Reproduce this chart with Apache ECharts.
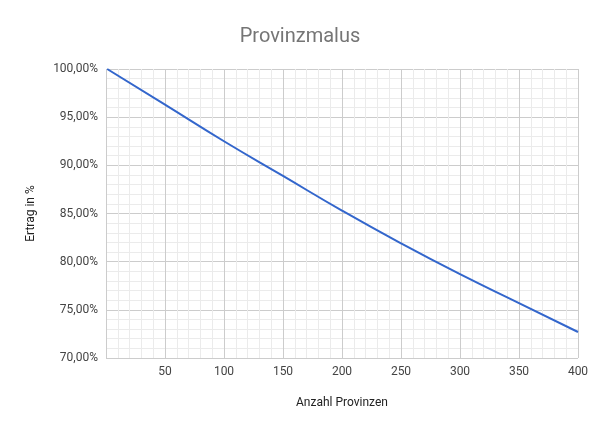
<!DOCTYPE html>
<html><head><meta charset="utf-8">
<script src="https://cdn.jsdelivr.net/npm/echarts@6/dist/echarts.min.js"></script>
<style>html,body{margin:0;padding:0;background:#fff}#c{width:600px;height:433px}</style>
</head><body><div id="c"></div>
<script>
const xValues = [1, 50, 100, 150, 200, 250, 300, 350, 400];
const yieldValues = [1.0, 0.963, 0.925, 0.889, 0.853, 0.819, 0.787, 0.757, 0.727];
const chart = echarts.init(document.getElementById('c'));
const fmt = v => (v*100).toFixed(2).replace('.', ',') + '%';
chart.setOption({
  title: {text: 'Provinzmalus', left: 'center', top: 22, textStyle: {fontFamily: 'Roboto', fontSize: 20, fontWeight: 'normal', color: '#757575'}},
  grid: {left: 106, right: 22, top: 69, bottom: 75},
  xAxis: {type: 'value', min: 0, max: 400, interval: 50,
    name: 'Anzahl Provinzen', nameLocation: 'middle', nameGap: 39,
    nameTextStyle: {fontFamily: 'Roboto', fontSize: 12, color: '#222'},
    axisLine: {show: false}, axisTick: {show: false},
    axisLabel: {fontFamily: 'Roboto', fontSize: 12, color: '#444', formatter: v => v === 0 ? '' : v},
    splitLine: {lineStyle: {color: '#cccccc'}},
    minorTick: {show: false, splitNumber: 5}, minorSplitLine: {show: true, lineStyle: {color: '#ebebeb'}}},
  yAxis: {type: 'value', min: 0.7, max: 1.0, interval: 0.05,
    name: 'Ertrag in %', nameLocation: 'middle', nameGap: 69,
    nameTextStyle: {fontFamily: 'Roboto', fontSize: 12, color: '#222'},
    axisLine: {show: false}, axisTick: {show: false},
    axisLabel: {fontFamily: 'Roboto', fontSize: 12, color: '#444', formatter: fmt},
    splitLine: {lineStyle: {color: '#cccccc'}},
    minorTick: {show: false, splitNumber: 5}, minorSplitLine: {show: true, lineStyle: {color: '#ebebeb'}}},
  series: [{type: 'line', data: xValues.map((x, i) => [x, yieldValues[i]]), smooth: true, showSymbol: false,
    lineStyle: {color: '#3366cc', width: 2}}]
});
</script></body></html>
